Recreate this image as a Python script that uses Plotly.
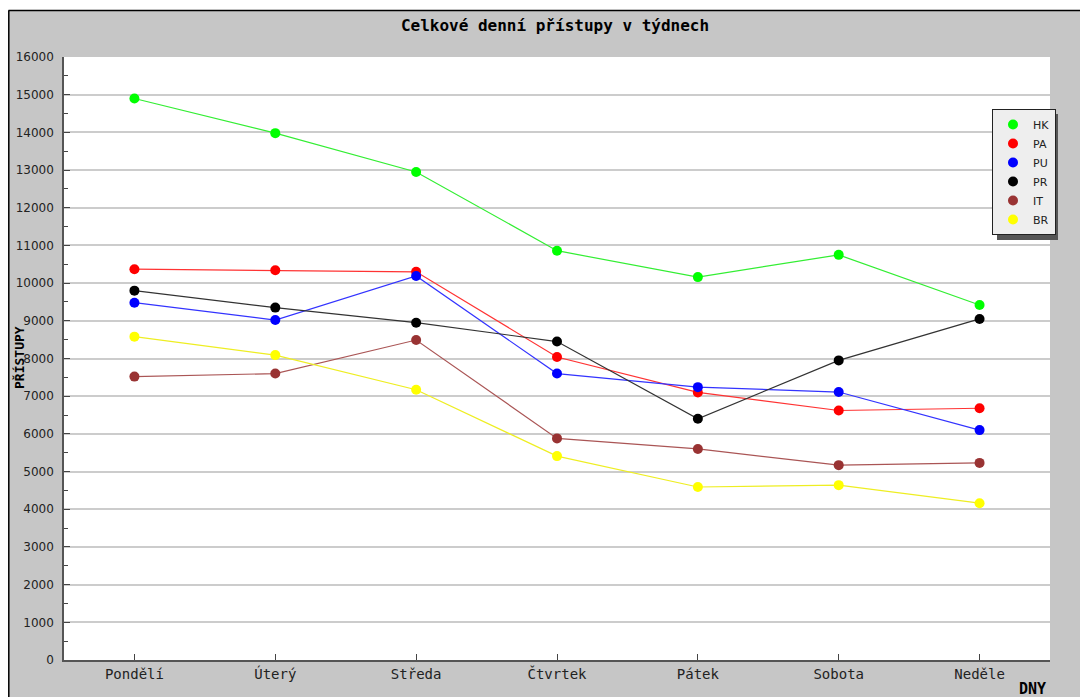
import plotly.graph_objects as go

days = ["Pondělí", "Úterý", "Středa", "Čtvrtek", "Pátek", "Sobota", "Neděle"]
hk = [14900, 13980, 12950, 10860, 10160, 10750, 9420]
pa = [10370, 10340, 10300, 8040, 7100, 6620, 6680]
pu = [9480, 9020, 10190, 7600, 7240, 7110, 6100]
pr = [9800, 9350, 8950, 8450, 6400, 7950, 9050]
it = [7520, 7600, 8490, 5880, 5600, 5170, 5230]
br = [8580, 8090, 7170, 5410, 4590, 4640, 4160]

series = [
    ("HK", hk, "#00ff00", "#33ee33"),
    ("PA", pa, "#ff0000", "#ff3333"),
    ("PU", pu, "#0000ff", "#3333ff"),
    ("PR", pr, "#000000", "#333333"),
    ("IT", it, "#993333", "#aa5555"),
    ("BR", br, "#ffff00", "#eeee22"),
]

# page body has an 8px margin; work in window coordinates and shift
O = 8
WW, WH = 1088, 697
W, H = WW - O, WH - O
L, R, T, B = 64, 1050, 57, 660  # window coords of plot area
pw, ph = R - L, B - T


def px(x):
    return (x - L) / pw


def py(y):
    return (B - y) / ph


fig = go.Figure()
for name, vals, mc, lc in series:
    fig.add_trace(go.Scatter(
        x=days, y=vals, mode="lines+markers", name=name, showlegend=False,
        line=dict(color=lc, width=1.2),
        marker=dict(color=mc, size=10, symbol="circle"),
    ))
for name, vals, mc, lc in series:
    fig.add_trace(go.Scatter(
        x=[None], y=[None], mode="markers", name=name, showlegend=True,
        marker=dict(color=mc, size=10, symbol="circle"),
    ))

mono = "DejaVu Sans Mono"

fig.update_layout(
    width=W, height=H,
    margin=dict(l=L - O, r=WW - R, t=T - O, b=WH - B, autoexpand=False),
    paper_bgcolor="#c6c6c6",
    plot_bgcolor="#ffffff",
    title=dict(text="<b>Celkové denní přístupy v týdnech</b>",
               x=px(555), xref="paper", xanchor="center",
               y=1 - (25 - O) / H, yanchor="middle",
               font=dict(family=mono, size=16, color="#000000")),
    xaxis=dict(
        type="category", range=[-0.5, 6.5], automargin=False,
        showgrid=False, showline=True, linecolor="#555555", linewidth=1.5,
        ticks="inside", ticklen=6, tickcolor="#444444",
        tickfont=dict(family=mono, size=14, color="#222222"),
        zeroline=False, mirror=False,
    ),
    yaxis=dict(
        range=[0, 16000], dtick=1000, tick0=0, tickformat="d", automargin=False,
        showgrid=True, gridcolor="#cccccc", gridwidth=1.5,
        showline=True, linecolor="#555555", linewidth=1.5,
        ticks="inside", ticklen=6, tickcolor="#444444",
        minor=dict(ticks="inside", dtick=500, ticklen=4, tickcolor="#444444", showgrid=False),
        tickfont=dict(family="DejaVu Sans", size=12, color="#222222"),
        ticklabelstandoff=6,
        zeroline=False,
    ),
    legend=dict(
        x=px(992), y=py(109), xanchor="left", yanchor="top",
        bgcolor="#eeeeee", bordercolor="#222222", borderwidth=1,
        font=dict(family="DejaVu Sans", size=11, color="#222222"),
        itemwidth=30, tracegroupgap=0,
    ),
    showlegend=True,
)

# white top strip and black frame lines
fig.add_shape(type="rect", xref="paper", yref="paper",
              x0=px(0), x1=px(WW), y0=py(0), y1=py(10),
              fillcolor="#ffffff", line=dict(width=0))
fig.add_shape(type="line", xref="paper", yref="paper",
              x0=px(8.5), x1=px(WW), y0=py(10.5), y1=py(10.5),
              line=dict(color="#000000", width=1.5))
fig.add_shape(type="line", xref="paper", yref="paper",
              x0=px(8.8), x1=px(8.8), y0=py(10.5), y1=py(WH),
              line=dict(color="#000000", width=1.5))
# legend shadow
fig.add_shape(type="rect", xref="paper", yref="paper",
              x0=px(997), x1=px(1058), y0=py(114), y1=py(240),
              fillcolor="#555555", line=dict(width=0), layer="above")

fig.add_annotation(text="<b>PŘÍSTUPY</b>", xref="paper", yref="paper",
                   x=px(20), y=py(358), textangle=-90, showarrow=False,
                   xanchor="center", yanchor="middle",
                   font=dict(family=mono, size=13, color="#000000"))
fig.add_annotation(text="<b>DNY</b>", xref="paper", yref="paper",
                   x=px(1048), y=py(700), showarrow=False,
                   xanchor="right", yanchor="bottom",
                   font=dict(family=mono, size=15, color="#000000"))

fig.write_html("out.html")
